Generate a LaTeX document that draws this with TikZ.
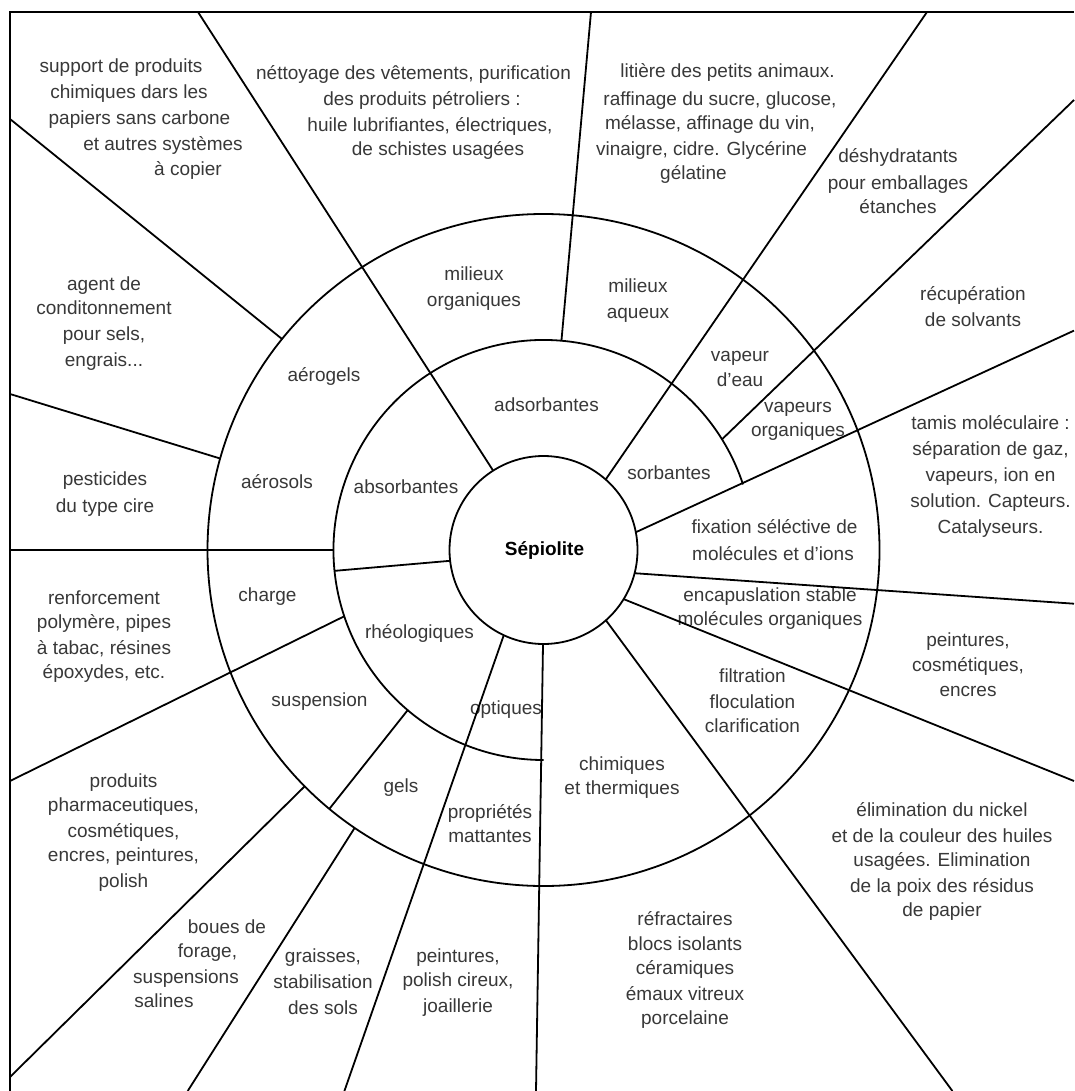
\documentclass[tikz,border=0pt]{standalone}
\usepackage{fontspec}
\setmainfont{Liberation Sans}
\usetikzlibrary{calc}
\definecolor{txtgray}{gray}{0.22}
\newcommand\tl[4]{\node[txt] (#1) at (#2,#3+6) {#4};}
\begin{document}
\begin{tikzpicture}[x=1pt,y=-1pt,
  ln/.style={line width=1.8pt, black, line join=miter},
  txt/.style={font=\fontsize{19}{23}\selectfont, text=txtgray, anchor=base, inner sep=0pt},
  ctr/.style={font=\fontsize{19}{23}\bfseries\selectfont, text=black, anchor=base, inner sep=0pt}]
\fill[white] (0,0) rectangle (1074,1091);
\useasboundingbox (0,0) rectangle (1074,1091);
\coordinate (C) at (543.5,550);

% ---------- texts ----------
\node[ctr] (sep) at (544.5,549+6) {Sépiolite};

\tl{sup1}{121}{67}{support de produits}
\tl{sup2}{129}{93}{chimiques dars les}
\tl{sup3}{139.5}{119}{papiers sans carbone}
\tl{sup4}{163}{145}{et autres systèmes}
\tl{sup5}{188}{170}{à copier}

\tl{net1}{413.5}{74}{néttoyage des vêtements, purification}
\tl{net2}{422}{100}{des produits pétroliers :}
\tl{net3}{430}{126}{huile lubrifiantes, électriques,}
\tl{net4}{438}{150}{de schistes usagées}

\tl{lit1}{727.5}{72}{litière des petits animaux.}
\tl{lit2}{720}{100}{raffinage du sucre, glucose,}
\tl{lit3}{710}{124}{mélasse, affinage du vin,}
\tl{lit4}{701.5}{150}{vinaigre, cidre. Glycérine}
\tl{lit5}{693.5}{174}{gélatine}

\tl{des1}{898}{157}{déshydratants}
\tl{des2}{898}{184}{pour emballages}
\tl{des3}{898}{208}{étanches}

\tl{rec1}{973}{294}{récupération}
\tl{rec2}{973}{320}{de solvants}

\tl{tam1}{990.5}{423.5}{tamis moléculaire :}
\tl{tam2}{990.5}{449}{séparation de gaz,}
\tl{tam3}{990.5}{475}{vapeurs, ion en}
\tl{tam4}{990.5}{501}{solution. Capteurs.}
\tl{tam5}{990.5}{527}{Catalyseurs.}

\tl{age1}{104}{284}{agent de}
\tl{age2}{104}{308}{conditonnement}
\tl{age3}{104}{334}{pour sels,}
\tl{age4}{104}{360}{engrais...}

\tl{pes1}{105}{479}{pesticides}
\tl{pes2}{105}{506}{du type cire}

\tl{ren1}{104}{598.5}{renforcement}
\tl{ren2}{104}{622.6}{polymère, pipes}
\tl{ren3}{104}{648.5}{à tabac, résines}
\tl{ren4}{104}{672.6}{époxydes, etc.}

\tl{pro1}{123.5}{781}{produits}
\tl{pro2}{123.5}{805}{pharmaceutiques,}
\tl{pro3}{123.5}{831}{cosmétiques,}
\tl{pro4}{123.5}{855}{encres, peintures,}
\tl{pro5}{123.5}{881}{polish}

\tl{bou1}{227}{927}{boues de}
\tl{bou2}{207.5}{951.5}{forage,}
\tl{bou3}{186}{977}{suspensions}
\tl{bou4}{164}{1001}{salines}

\tl{gra1}{323}{956.7}{graisses,}
\tl{gra2}{323}{982.5}{stabilisation}
\tl{gra3}{323}{1008.3}{des sols}

\tl{pea1}{458}{956.7}{peintures,}
\tl{pea2}{458}{980.8}{polish cireux,}
\tl{pea3}{458}{1006.6}{joaillerie}

\tl{ref1}{685}{919}{réfractaires}
\tl{ref2}{685}{944.6}{blocs isolants}
\tl{ref3}{685}{968.7}{céramiques}
\tl{ref4}{685}{994.5}{émaux vitreux}
\tl{ref5}{685}{1018.7}{porcelaine}

\tl{eli1}{942}{810}{élimination du nickel}
\tl{eli2}{942}{836}{et de la couleur des huiles}
\tl{eli3}{942}{860}{usagées. Elimination}
\tl{eli4}{942}{886}{de la poix des résidus}
\tl{eli5}{942}{910}{de papier}

\tl{peb1}{968}{640}{peintures,}
\tl{peb2}{968}{665.7}{cosmétiques,}
\tl{peb3}{968}{690}{encres}

\tl{mio1}{474}{274}{milieux}
\tl{mio2}{474}{300}{organiques}
\tl{mia1}{638}{286}{milieux}
\tl{mia2}{638}{312}{aqueux}
\tl{vde1}{740}{355}{vapeur}
\tl{vde2}{740}{380.5}{d'eau}
\tl{vor1}{798}{406}{vapeurs}
\tl{vor2}{798}{430}{organiques}
\tl{aeg}{324}{375}{aérogels}
\tl{aes}{277}{482}{aérosols}
\tl{cha}{267.5}{595}{charge}
\tl{sus}{319.5}{700}{suspension}
\tl{gel}{401}{786}{gels}
\tl{prm1}{490}{812}{propriétés}
\tl{prm2}{490}{836}{mattantes}

\tl{ads}{546.5}{405}{adsorbantes}
\tl{abs}{406}{487}{absorbantes}
\tl{sor}{669}{473.5}{sorbantes}
\tl{rhe}{419.5}{632}{rhéologiques}
\tl{opt}{506}{708}{optiques}

\tl{fix1}{774.5}{527}{fixation séléctive de}
\tl{fix2}{773}{554}{molécules et d'ions}
\tl{enc1}{770}{595}{encapuslation stable}
\tl{enc2}{770}{619}{molécules organiques}
\tl{fil1}{752.5}{676}{filtration}
\tl{fil2}{752.5}{702}{floculation}
\tl{fil3}{752.5}{726}{clarification}
\tl{chi1}{622}{764}{chimiques}
\tl{chi2}{622}{788}{et thermiques}

% ---------- frame ----------
\coordinate (fbl) at (10,1091);
\coordinate (ftl) at (10,12);
\coordinate (ftr) at (1074,12);
\draw[ln] (fbl) -- (ftl) -- (ftr);

% ---------- circles ----------
\draw[ln] (C) circle[radius=94];
\draw[ln] (C) circle[radius=336];
\coordinate (m0) at ($(C)+(-18.2:210)$);
\draw[ln] (m0) arc[start angle=-18.2, end angle=-270, radius=210];

% ---------- radial lines ----------
\coordinate (s1a) at ($(C)+(-122.4:94)$);  \coordinate (s1b) at (198,12);
\coordinate (s2a) at ($(C)+(-85.1:210)$);  \coordinate (s2b) at (591,12);
\coordinate (s3a) at ($(C)+(-48.6:94)$);   \coordinate (s3b) at (927,12);
\coordinate (s4a) at ($(C)+(-31.8:210)$);  \coordinate (s4b) at (1074,100);
\coordinate (s5a) at ($(C)+(-10.9:94)$);   \coordinate (s5b) at (1074,330.6);
\coordinate (s6a) at ($(C)+(14.3:94)$);    \coordinate (s6b) at (1074,603.7);
\coordinate (s7a) at ($(C)+(31.5:94)$);    \coordinate (s7b) at (1074,781);
\coordinate (s8a) at ($(C)+(48.4:94)$);    \coordinate (s8b) at (952.4,1091);
\coordinate (s9a) at ($(C)+(90.3:94)$);    \coordinate (s9b) at (536,1091);
\coordinate (s10a) at ($(C)+(115:94)$);    \coordinate (s10b) at (344.4,1091);
\coordinate (s11a) at ($(C)+(130.3:210)$); \coordinate (s11b) at ($(C)+(129.6:336)$);
\coordinate (s12a) at ($(C)+(124.2:336)$); \coordinate (s12b) at (187.7,1091);
\coordinate (s13a) at ($(C)+(135.3:336)$); \coordinate (s13b) at (10,1077);
\coordinate (s14a) at ($(C)+(161.6:210)$); \coordinate (s14b) at (10,781);
\coordinate (s15a) at ($(C)+(173.4:94)$);  \coordinate (s15b) at ($(C)+(174.3:210)$);
\coordinate (s16a) at ($(C)+(180:210)$);   \coordinate (s16b) at (10,550);
\coordinate (s17a) at ($(C)+(-164.2:336)$); \coordinate (s17b) at (10,394);
\coordinate (s18a) at ($(C)+(-141.1:336)$); \coordinate (s18b) at (10,119);

\foreach \k in {1,...,18} {\draw[ln] (s\k a) -- (s\k b);}
\end{tikzpicture}
\end{document}
